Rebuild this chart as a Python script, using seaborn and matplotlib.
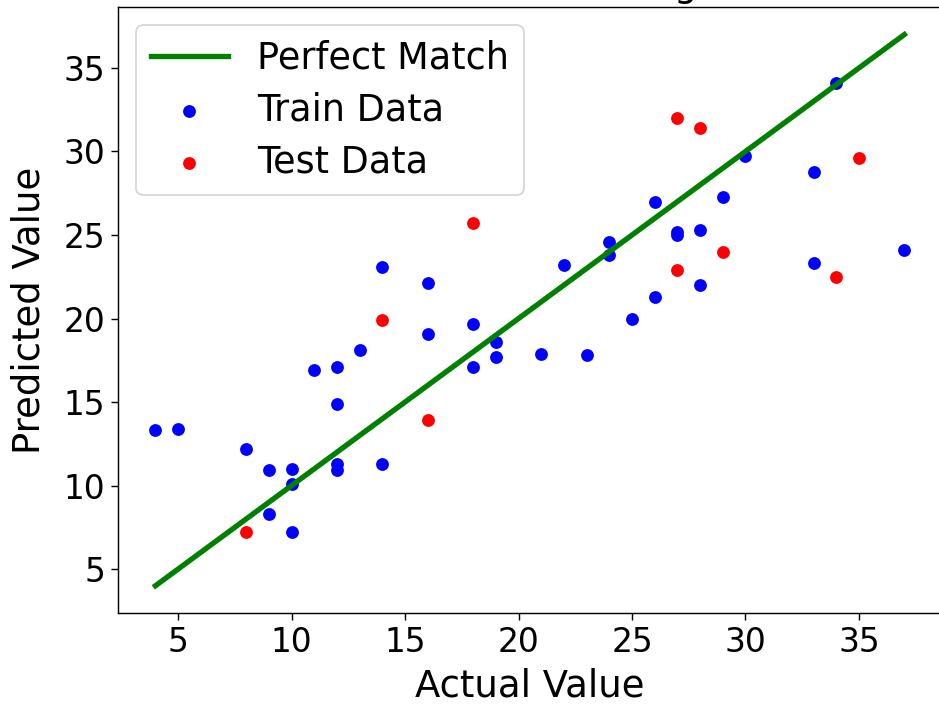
import matplotlib
matplotlib.use("Agg")
import matplotlib.pyplot as plt
import seaborn as sns

# Train data (actual, predicted)
train_actual = [4, 5, 8, 9, 9, 10, 10, 10, 11, 12, 12, 12, 12, 13, 14, 14, 16, 16, 18, 18,
                19, 19, 21, 22, 23, 24, 24, 25, 26, 26, 27, 27, 28, 28, 29, 30, 33, 33, 34, 37]
train_pred = [13.3, 13.4, 12.2, 10.9, 8.3, 11.0, 10.1, 7.2, 16.9, 17.1, 14.9, 11.3, 10.9, 18.1, 23.1, 11.3,
              22.1, 19.1, 19.7, 17.1, 18.6, 17.7, 17.9, 23.2, 17.8, 24.6, 23.8, 20.0, 27.0, 21.3,
              25.2, 25.0, 25.3, 22.0, 27.3, 29.7, 28.8, 23.3, 34.1, 24.1]

# Test data (actual, predicted)
test_actual = [8, 14, 16, 18, 27, 27, 28, 29, 34, 35]
test_pred = [7.2, 19.9, 13.9, 25.7, 32.0, 22.9, 31.4, 24.0, 22.5, 29.6]

all_actual = train_actual + test_actual
line_vals = [min(all_actual), max(all_actual)]

DPI = 128
fig = plt.figure(figsize=(939 / DPI, 704 / DPI), dpi=DPI)
ax = fig.add_axes([118 / 939, (704 - 613.3) / 704, (941.8 - 118) / 939, (613.3 - 7) / 704])

sns.lineplot(x=line_vals, y=line_vals, color="green", linewidth=3, label="Perfect Match", ax=ax)
sns.scatterplot(x=train_actual, y=train_pred, color="blue", s=52, linewidth=0, label="Train Data", ax=ax)
sns.scatterplot(x=test_actual, y=test_pred, color="red", s=52, linewidth=0, label="Test Data", ax=ax)

ax.set_xlabel("Actual Value", fontsize=20.8, labelpad=5)
ax.set_ylabel("Predicted Value", fontsize=20.8, labelpad=9)
ax.set_title("Gradient Boosting", fontsize=20.8)
ax.tick_params(labelsize=18.5, length=3.7)
ax.legend(loc="upper left", fontsize=20.6, labelspacing=0.4, handlelength=2.1)

fig.savefig("out.png", dpi=DPI)
